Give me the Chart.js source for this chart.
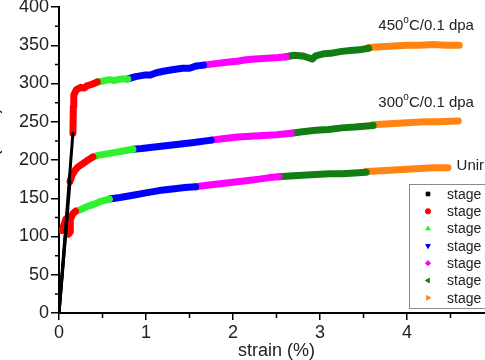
<!DOCTYPE html>
<html>
<head>
<meta charset="utf-8">
<script src="https://cdn.jsdelivr.net/npm/chart.js@4/dist/chart.umd.min.js"></script>
<style>
  html, body { margin: 0; padding: 0; background: #fff; overflow: hidden; width: 485px; height: 360px; }
  #wrap { position: absolute; left: -35px; top: 0; width: 555px; height: 360px; }
</style>
</head>
<body>
<div id="wrap"><canvas id="chart"></canvas></div>
<script>
const stageLabels = ['stage 1', 'stage 2', 'stage 3', 'stage 4', 'stage 5', 'stage 6', 'stage 7'];
const stageColors = ['#000000', '#ff0000', '#2ef22e', '#0000ff', '#ff00ff', '#127d12', '#ff8414'];
const stageMarkers = ['rect', 'circle', 'triangle', 'triangle', 'rectRot', 'triangle', 'triangle'];
const markerRotation = [0, 0, 0, 180, 0, -90, 90];

const curveNames = ['450\u00b0C/0.1 dpa', '300\u00b0C/0.1 dpa', 'Unirradiated'];
const yTitle = 'Stress (MPa)';

// [strain %, stress MPa] per stage
const curve450 = [
    [[0, 0], [0.16, 235]],
    [[0.16, 235], [0.165, 270], [0.17, 285], [0.2, 292], [0.25, 295], [0.29, 294], [0.32, 297], [0.38, 299], [0.44, 302]],
    [[0.44, 302], [0.5, 303], [0.58, 305], [0.63, 304], [0.72, 306], [0.79, 306]],
    [[0.79, 306], [0.88, 309], [0.98, 311], [1.05, 311], [1.12, 314], [1.2, 316], [1.3, 318], [1.42, 320], [1.5, 320], [1.58, 323], [1.66, 324]],
    [[1.66, 324], [1.8, 326], [1.95, 328], [2.05, 329], [2.15, 331], [2.25, 332], [2.4, 333], [2.52, 334], [2.61, 335]],
    [[2.61, 335], [2.7, 337], [2.8, 336], [2.86, 334], [2.91, 332], [2.95, 336], [3.05, 339], [3.15, 340], [3.25, 342], [3.35, 343], [3.45, 344], [3.56, 346]],
    [[3.56, 347], [3.7, 348], [3.85, 349], [4.0, 350], [4.15, 350], [4.3, 351], [4.45, 350], [4.6, 350]]
];

const curve300 = [
    [[0, 0], [0.127, 172]],
    [[0.127, 172], [0.15, 180], [0.18, 186], [0.22, 191], [0.27, 195], [0.32, 199], [0.39, 204]],
    [[0.39, 204], [0.45, 206], [0.55, 208], [0.65, 210], [0.75, 212], [0.85, 214]],
    [[0.85, 214], [0.95, 215], [1.1, 217], [1.25, 219], [1.4, 221], [1.55, 223], [1.75, 226]],
    [[1.75, 226], [1.9, 228], [2.05, 230], [2.2, 231], [2.35, 232], [2.5, 233], [2.67, 235]],
    [[2.67, 235], [2.8, 237], [2.95, 239], [3.1, 240], [3.25, 242], [3.4, 243], [3.61, 245]],
    [[3.61, 246], [3.75, 247], [3.9, 248], [4.05, 249], [4.2, 250], [4.35, 250], [4.59, 251]]
];

const curveUnirr = [
    [[0, 0], [0.1, 135]],
    [[0.035, 108], [0.06, 116], [0.08, 123], [0.1, 112], [0.11, 103], [0.13, 106], [0.13, 122], [0.16, 130], [0.19, 133]],
    [[0.19, 133], [0.25, 135], [0.32, 139], [0.4, 142], [0.48, 146], [0.58, 149]],
    [[0.58, 149], [0.7, 151], [0.85, 154], [1.0, 157], [1.15, 160], [1.3, 162], [1.45, 164], [1.57, 165]],
    [[1.57, 165], [1.7, 167], [1.85, 169], [2.0, 171], [2.15, 173], [2.3, 175], [2.42, 177], [2.53, 178]],
    [[2.53, 178], [2.65, 179], [2.8, 180], [2.95, 181], [3.1, 182], [3.25, 182], [3.4, 183], [3.53, 184]],
    [[3.53, 185], [3.7, 186], [3.85, 187], [4.0, 188], [4.15, 189], [4.3, 190], [4.47, 190]]
];

// label anchors in data units (strain, stress at baseline)
const curveLabelPos = [[3.67, 370], [3.67, 269], [4.57, 187]];

const xTicks = [0, 1, 2, 3, 4, 5];
const yTicks = [0, 50, 100, 150, 200, 250, 300, 350, 400];

const curves = [curve450, curve300, curveUnirr];
const datasets = [];
stageLabels.forEach((label, s) => {
    curves.forEach(curve => {
        datasets.push({
            label: label,
            data: curve[s].map(p => ({ x: p[0], y: p[1] })),
            borderColor: stageColors[s],
            backgroundColor: stageColors[s],
            borderWidth: s === 0 ? 3 : 7,
            borderCapStyle: 'round',
            borderJoinStyle: 'round',
            showLine: true,
            pointRadius: 0,
            tension: 0
        });
    });
});

const minorTicks = {
    id: 'minorTicks',
    afterDraw(chart) {
        const ctx = chart.ctx;
        const x = chart.scales.x, y = chart.scales.y;
        ctx.save();
        ctx.strokeStyle = '#000';
        ctx.lineWidth = 1.5;
        ctx.beginPath();
        for (let v = 25; v < 400; v += 50) {
            const py = y.getPixelForValue(v);
            ctx.moveTo(chart.chartArea.left, py);
            ctx.lineTo(chart.chartArea.left - 4, py);
        }
        for (let v = 0.5; v < 5; v += 1) {
            const px = x.getPixelForValue(v);
            ctx.moveTo(px, chart.chartArea.bottom);
            ctx.lineTo(px, chart.chartArea.bottom + 5);
        }
        ctx.stroke();

        // y title, mostly cropped off the left edge like the reference
        ctx.font = '18px "Liberation Sans", Arial, sans-serif';
        ctx.fillStyle = '#222';
        ctx.textAlign = 'center';
        ctx.textBaseline = 'middle';
        ctx.translate(chart.chartArea.left - 66, (chart.chartArea.top + chart.chartArea.bottom) / 2);
        ctx.rotate(-Math.PI / 2);
        ctx.fillText(yTitle, 0, 0);
        ctx.restore();
    }
};

const curveLabels = {
    id: 'curveLabels',
    afterDraw(chart) {
        const ctx = chart.ctx;
        const x = chart.scales.x, y = chart.scales.y;
        ctx.save();
        ctx.fillStyle = '#222';
        ctx.textBaseline = 'alphabetic';
        ctx.textAlign = 'left';
        curveNames.forEach((name, i) => {
            let px = x.getPixelForValue(curveLabelPos[i][0]);
            const py = y.getPixelForValue(curveLabelPos[i][1]);
            const parts = name.split('\u00b0');
            ctx.font = '15px "Liberation Sans", Arial, sans-serif';
            ctx.fillText(parts[0], px, py);
            if (parts.length > 1) {
                px += ctx.measureText(parts[0]).width;
                ctx.font = '10px "Liberation Sans", Arial, sans-serif';
                ctx.fillText('o', px, py - 7);
                px += ctx.measureText('o').width;
                ctx.font = '15px "Liberation Sans", Arial, sans-serif';
                ctx.fillText(parts[1], px, py);
            }
        });
        ctx.restore();
    }
};

const boxLegend = {
    id: 'boxLegend',
    afterDraw(chart) {
        const ctx = chart.ctx;
        const left = chart.chartArea.left + 350, top = 184, w = 100, h = 124;
        ctx.save();
        ctx.fillStyle = '#fff';
        ctx.fillRect(left, top, w, h);
        ctx.strokeStyle = '#8a8a8a';
        ctx.lineWidth = 1;
        ctx.strokeRect(left + 0.5, top + 0.5, w, h);
        ctx.font = '14px "Liberation Sans", Arial, sans-serif';
        ctx.textBaseline = 'middle';
        ctx.textAlign = 'left';
        stageLabels.forEach((label, i) => {
            const cy = top + 10 + i * 17.3;
            ctx.fillStyle = stageColors[i];
            ctx.strokeStyle = stageColors[i];
            Chart.helpers.drawPoint(ctx, {
                pointStyle: stageMarkers[i],
                rotation: markerRotation[i],
                radius: 2.6,
                borderWidth: 1
            }, left + 19, cy);
            ctx.fillStyle = '#222';
            ctx.fillText(label, left + 38, cy + 1);
        });
        ctx.restore();
    }
};

new Chart(document.getElementById('chart'), {
    type: 'scatter',
    data: { datasets: datasets },
    options: {
        responsive: true,
        maintainAspectRatio: false,
        animation: false,
        layout: { padding: { top: 7, right: 26, bottom: 0, left: 0 } },
        plugins: {
            legend: { display: false },
            tooltip: { enabled: false }
        },
        scales: {
            x: {
                type: 'linear',
                min: 0,
                max: 5,
                afterBuildTicks: s => { s.ticks = xTicks.map(v => ({ value: v })); },
                afterFit: s => { s.height = 47; s.paddingLeft = 0; s.paddingRight = 0; },
                ticks: {
                    color: '#222',
                    padding: 2,
                    font: { family: '"Liberation Sans", Arial, sans-serif', size: 18 }
                },
                grid: { display: true, drawOnChartArea: false, drawTicks: true, tickLength: 7, color: '#000', lineWidth: 1.5 },
                border: { display: true, color: '#000', width: 2 },
                title: {
                    display: true,
                    text: 'strain (%)',
                    color: '#222',
                    padding: { top: 0, bottom: 0 },
                    font: { family: '"Liberation Sans", Arial, sans-serif', size: 18, lineHeight: 1 }
                }
            },
            y: {
                min: 0,
                max: 400,
                afterBuildTicks: s => { s.ticks = yTicks.map(v => ({ value: v })); },
                afterFit: s => { s.width = 94; s.paddingTop = 7; s.paddingBottom = 0; },
                ticks: {
                    color: '#222',
                    padding: 2,
                    font: { family: '"Liberation Sans", Arial, sans-serif', size: 18 }
                },
                grid: { display: true, drawOnChartArea: false, drawTicks: true, tickLength: 8, color: '#000', lineWidth: 1.5 },
                border: { display: true, color: '#000', width: 2 },
                title: { display: false }
            }
        }
    },
    plugins: [minorTicks, curveLabels, boxLegend]
});
</script>
</body>
</html>
